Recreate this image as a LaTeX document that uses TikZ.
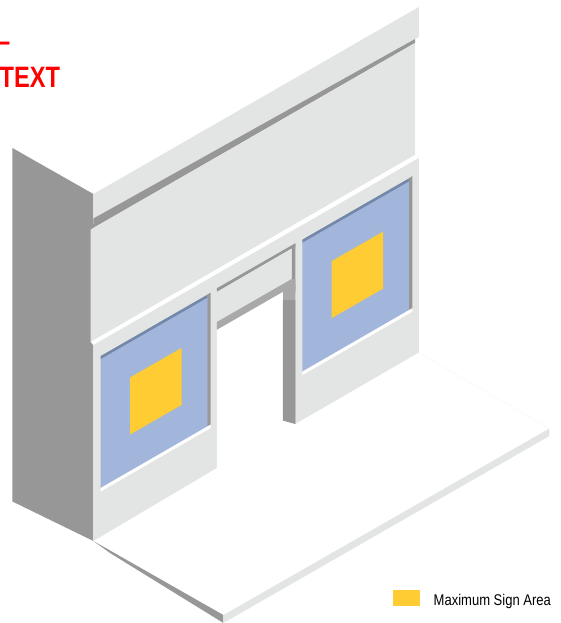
\documentclass[tikz,border=0pt]{standalone}
\usepackage{fontspec}
\setmainfont{Liberation Sans}
\newfontfamily\notefont[FakeStretch=0.84]{Liberation Sans}
\newfontfamily\flagfont[FakeStretch=0.8]{Liberation Sans}
\definecolor{wallgrey}{HTML}{E3E5E4}
\definecolor{shadegrey}{HTML}{979797}
\definecolor{jambgrey}{HTML}{A8A9A8}
\definecolor{glassblue}{HTML}{A2B5DA}
\definecolor{headblue}{HTML}{7388A9}
\definecolor{signyellow}{HTML}{FFCC33}
\tikzset{
  wall/.style={fill=wallgrey},
  shade/.style={fill=shadegrey},
  jamb/.style={fill=jambgrey},
  glass/.style={fill=glassblue},
  head/.style={fill=headblue},
  sign/.style={fill=signyellow},
  gap/.style={fill=white},
  flag/.style={anchor=base west,inner sep=0,text=red,font=\flagfont\bfseries\fontsize{29.5}{30}\selectfont},
  note/.style={anchor=base west,inner sep=0,font=\notefont\fontsize{15.5}{16}\selectfont}
}
\begin{document}
\begin{tikzpicture}[x=1pt,y=-1pt]
    \useasboundingbox (0,0) rectangle (561,623);
    % side wall and kerb
    \path[shade] (12.4,148) -- (93.4,194) -- (93.4,541) -- (12.4,501.5) -- cycle;
    \path[shade] (93.4,541) -- (223.4,615) -- (223.4,623) -- (110,553) -- cycle;
    \path[wall] (223.4,615) -- (549.4,428.5) -- (549.4,436) -- (223.4,623) -- cycle;
    \draw[black!3,line width=0.5pt] (419,353) -- (549.4,428.5);
    % upper band
    \path[wall] (93.4,194) -- (418.8,7) -- (418.8,37) -- (415,39) -- (93.4,224) -- cycle;
    \path[shade] (93.4,218.5) -- (415,39) -- (415,43) -- (90.7,229.5) -- (93.4,224) -- cycle;
    \path[wall] (90.7,229.5) -- (415,43) -- (415,155) -- (90.7,342) -- cycle;
    % piers
    \path[gap] (90.7,342) -- (415,155) -- (418.8,157) -- (93.4,345) -- cycle;
    \path[wall] (93.4,345) -- (418.8,158) -- (418.8,352.5) -- (295.3,424) -- (295.3,300) -- (216.8,345) -- (216.8,468) -- (93.4,541) -- cycle;
    % door head
    \path[shade] (216.8,288.3) -- (295.3,243.3) -- (295.3,247) -- (291.7,248.5) -- (216.8,292) -- cycle;
    \path[shade] (291.7,248.5) -- (295.3,243.3) -- (295.3,290) -- (291.7,290) -- cycle;
    \path[wall] (216.8,292) -- (291.7,248.5) -- (291.7,279) -- (216.8,322) -- cycle;
    \path[jamb] (216.8,322) -- (291.7,279) -- (295.3,279) -- (295.3,293) -- (282.8,293) -- (216.8,330) -- cycle;
    \path[jamb] (282.8,291) -- (295.3,284) -- (295.3,424) -- (282.8,420.5) -- cycle;
    \path[gap] (216.8,330) -- (282.8,292) -- (282.8,420.5) -- (295.3,424) -- (216.8,468) -- cycle;
    \path[shade] (282.8,300) -- (295.3,300) -- (295.3,424) -- (282.8,420.5) -- cycle;
    % windows
    \foreach \wx/\wy in {100.7/356,302.4/239.6}{
        \begin{scope}[shift={(\wx,\wy)}]
            \path[glass] (0,2) -- (107,-60) -- (107,71) -- (0,132) -- cycle;
            \path[head] (0,0) -- (107,-61.5) -- (107,-58.5) -- (0,3) -- cycle;
            \path[shade] (106.6,-61.5) -- (110,-63.5) -- (110,69) -- (106.6,71) -- cycle;
            \path[gap] (0,132) -- (110,68.5) -- (110,72) -- (0,135.5) -- cycle;
            \path[sign] (29.3,21.5) -- (80.8,-8) -- (80.8,49) -- (29.3,78.5) -- cycle;
        \end{scope}
    }
    % legend
    \node[draw=none,sign,minimum width=26.7pt,minimum height=16pt,inner sep=0] (swatch) at (406.7,598) {};
    \node[note] (legend) at (433.5,605) {Maximum Sign Area};
    % red text
    \node[flag] (rule) at (-3,52) {–};
    \node[flag] (title) at (-0.5,88) {TEXT};
\end{tikzpicture}
\end{document}
